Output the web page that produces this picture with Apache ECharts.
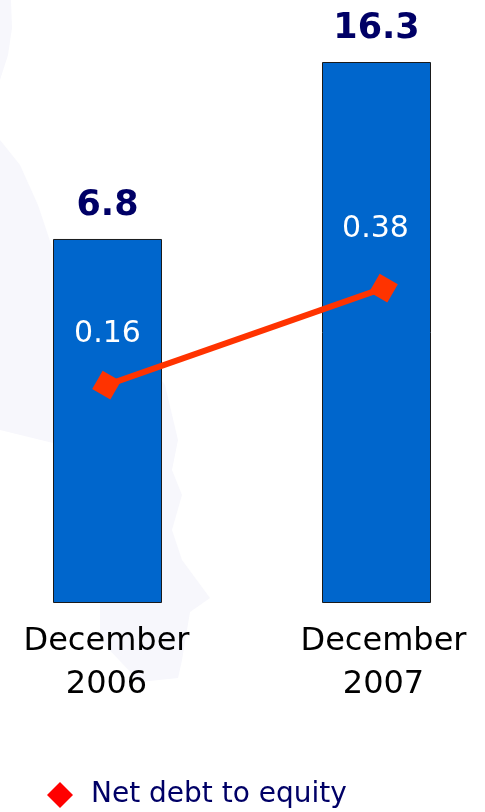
<!DOCTYPE html>
<html>
<head>
<meta charset="utf-8">
<style>
  html, body { margin: 0; padding: 0; background: #ffffff; }
  #chart { width: 485px; height: 812px; }
</style>
<script src="https://cdn.jsdelivr.net/npm/echarts@6/dist/echarts.min.js"></script>
</head>
<body>
<div id="chart"></div>
<script>
// Periods on the horizontal axis
const periods = ['December\n2006', 'December\n2007'];
// Net debt (bars)
const netDebt = [6.8, 16.3];
// Net debt to equity ratio (line)
const netDebtToEquity = [0.16, 0.38];
const lineName = 'Net debt to equity';

const font = 'DejaVu Sans, Verdana, sans-serif';
const watermark = '#f7f7fc';

const chart = echarts.init(document.getElementById('chart'), null, { renderer: 'canvas' });

chart.setOption({
  backgroundColor: '#ffffff',
  animation: false,
  graphic: [
    {
      // faint watermark shapes behind the plot
      type: 'polygon',
      z: -10,
      silent: true,
      shape: { points: [[0, 0], [11, 0], [12, 28], [8, 55], [0, 80]] },
      style: { fill: watermark }
    },
    {
      type: 'polygon',
      z: -10,
      silent: true,
      shape: {
        points: [[0, 140], [20, 165], [38, 205], [53, 250], [100, 300], [165, 385],
          [178, 440], [172, 470], [182, 495], [172, 530], [182, 560], [210, 598],
          [190, 612], [182, 660], [178, 678], [140, 682], [100, 640], [100, 600],
          [80, 440], [53, 443], [0, 430]]
      },
      style: { fill: watermark }
    }
  ],
  legend: {
    left: 47,
    top: 781,
    padding: 0,
    itemWidth: 26,
    itemHeight: 26,
    data: [{ name: lineName, icon: 'diamond', itemStyle: { color: '#ff0000' } }],
    textStyle: { fontFamily: font, fontSize: 28, color: '#000066', padding: [0, 0, 0, 13] }
  },
  grid: [
    { left: 107.5, width: 269, top: 62, bottom: 209, containLabel: false },
    { left: 106.5, width: 277, top: 62, bottom: 209, containLabel: false }
  ],
  xAxis: [
    { type: 'category', gridIndex: 0, data: periods, boundaryGap: false,
      axisLine: { show: false }, axisTick: { show: false }, axisLabel: { show: false } },
    { type: 'category', gridIndex: 1, data: periods, boundaryGap: false,
      axisLine: { show: false }, axisTick: { show: false },
      axisLabel: { fontFamily: font, fontSize: 32, lineHeight: 43, color: '#000000', margin: 17 } }
  ],
  yAxis: [
    { type: 'value', gridIndex: 0, min: -12.74, max: 16.3, startValue: -12.74, show: false,
      splitLine: { show: false } },
    { type: 'value', gridIndex: 1, min: -0.334, max: 0.893, show: false,
      splitLine: { show: false } }
  ],
  series: [
    {
      name: 'Net debt',
      type: 'bar',
      xAxisIndex: 0,
      yAxisIndex: 0,
      data: netDebt,
      barWidth: 109,
      clip: false,
      itemStyle: { color: '#0066cc', borderColor: '#1a1a1a', borderWidth: 1 },
      label: {
        show: true,
        position: 'top',
        distance: 16,
        fontFamily: font,
        fontWeight: 'bold',
        fontSize: 35,
        color: '#000066'
      }
    },
    {
      name: lineName,
      type: 'line',
      xAxisIndex: 1,
      yAxisIndex: 1,
      data: [
        { value: netDebtToEquity[0], label: { offset: [1, -22] } },
        { value: netDebtToEquity[1], label: { offset: [-8, -30] } }
      ],
      symbol: 'rect',
      symbolSize: 21,
      symbolRotate: -30,
      lineStyle: { color: '#ff3300', width: 6 },
      itemStyle: { color: '#ff3300' },
      label: {
        show: true,
        position: 'top',
        distance: 0,
        fontFamily: font,
        fontSize: 30,
        color: '#ffffff'
      },
      z: 5
    }
  ]
});
</script>
</body>
</html>
